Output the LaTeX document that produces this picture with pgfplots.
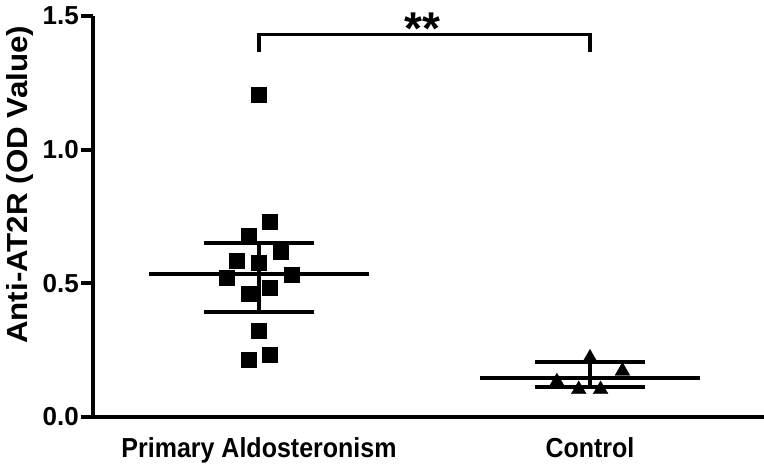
\documentclass[border=0pt]{standalone}
\usepackage{pgfplots}
\pgfplotsset{compat=1.18}
\usepackage{graphicx}
\usepackage{fontspec}
\setmainfont{Liberation Sans}

\begin{document}
\begin{tikzpicture}[x=1pt,y=1pt]
\useasboundingbox (0,0) rectangle (764,467);
\begin{axis}[
  at={(93pt,50pt)}, anchor=south west,
  scale only axis, width=671pt, height=401pt,
  xmin=0.4985, xmax=2.5257, ymin=0, ymax=1.5,
  clip=false,
  axis x line*=bottom, axis y line*=left,
  axis line style={-, line width=3.8pt, black},
  tick align=outside,
  major tick length=12pt,
  every tick/.append style={line width=3.8pt, black},
  major tick style={line width=3.8pt, black},
  ytick={0,0.5,1,1.5},
  ytick style={line width=3.8pt, black},
  xtick={1,2},
  xticklabels={{\scalebox{1}[1.1]{Primary Aldosteronism}},{\scalebox{1}[1.1]{Control}}},
  xtick style={draw=none},
  /pgf/number format/.cd, fixed, fixed zerofill, precision=1, assume math mode=true,
  /pgfplots/.cd,
  yticklabel style={font=\fontsize{26}{26}\selectfont\bfseries, inner sep=2pt},
  xticklabel style={font=\fontsize{25}{25}\selectfont\bfseries, anchor=base, yshift=-28pt},
  ylabel={\scalebox{1.08}[1]{Anti-AT2R (OD Value)}},
  ylabel style={font=\fontsize{29}{29}\selectfont\bfseries, at={(axis description cs:0,0.579)}, anchor=center, yshift=72.5pt},
]
% PA mean and SD
\addplot[black, line width=4pt] coordinates {(0.668,0.534) (1.332,0.534)};
\addplot[black, line width=4pt] coordinates {(0.834,0.651) (1.166,0.651)};
\addplot[black, line width=4pt] coordinates {(0.834,0.394) (1.166,0.394)};
\addplot[black, line width=4pt] coordinates {(1,0.394) (1,0.651)};
% Control mean and SD
\addplot[black, line width=4pt] coordinates {(1.668,0.145) (2.332,0.145)};
\addplot[black, line width=4pt] coordinates {(1.834,0.205) (2.166,0.205)};
\addplot[black, line width=4pt] coordinates {(1.834,0.114) (2.166,0.114)};
\addplot[black, line width=4pt] coordinates {(2,0.114) (2,0.205)};
% PA points
\addplot[only marks, mark=square*, mark size=7.5pt, black] coordinates {
(1.0,1.206) (1.033,0.731) (0.968,0.678) (1.066,0.619) (0.934,0.584)
(1.0,0.579) (0.902,0.522) (1.1,0.532) (1.033,0.484) (0.968,0.463)
(1.0,0.323) (1.033,0.232) (0.968,0.216)};
% Control points
\addplot[only marks, mark=triangle*, mark size=8.5pt, black] coordinates {
(2.0,0.221) (2.098,0.172) (1.9,0.132) (1.966,0.103) (2.032,0.103)};
% significance bracket
\addplot[black, line width=3.5pt, line join=miter] coordinates {(1,1.367) (1,1.431) (2,1.431) (2,1.367)};
\node[anchor=base, font=\fontsize{46}{46}\selectfont\bfseries, inner sep=0pt] at (axis cs:1.494,1.395) {**};
\end{axis}
\end{tikzpicture}
\end{document}
